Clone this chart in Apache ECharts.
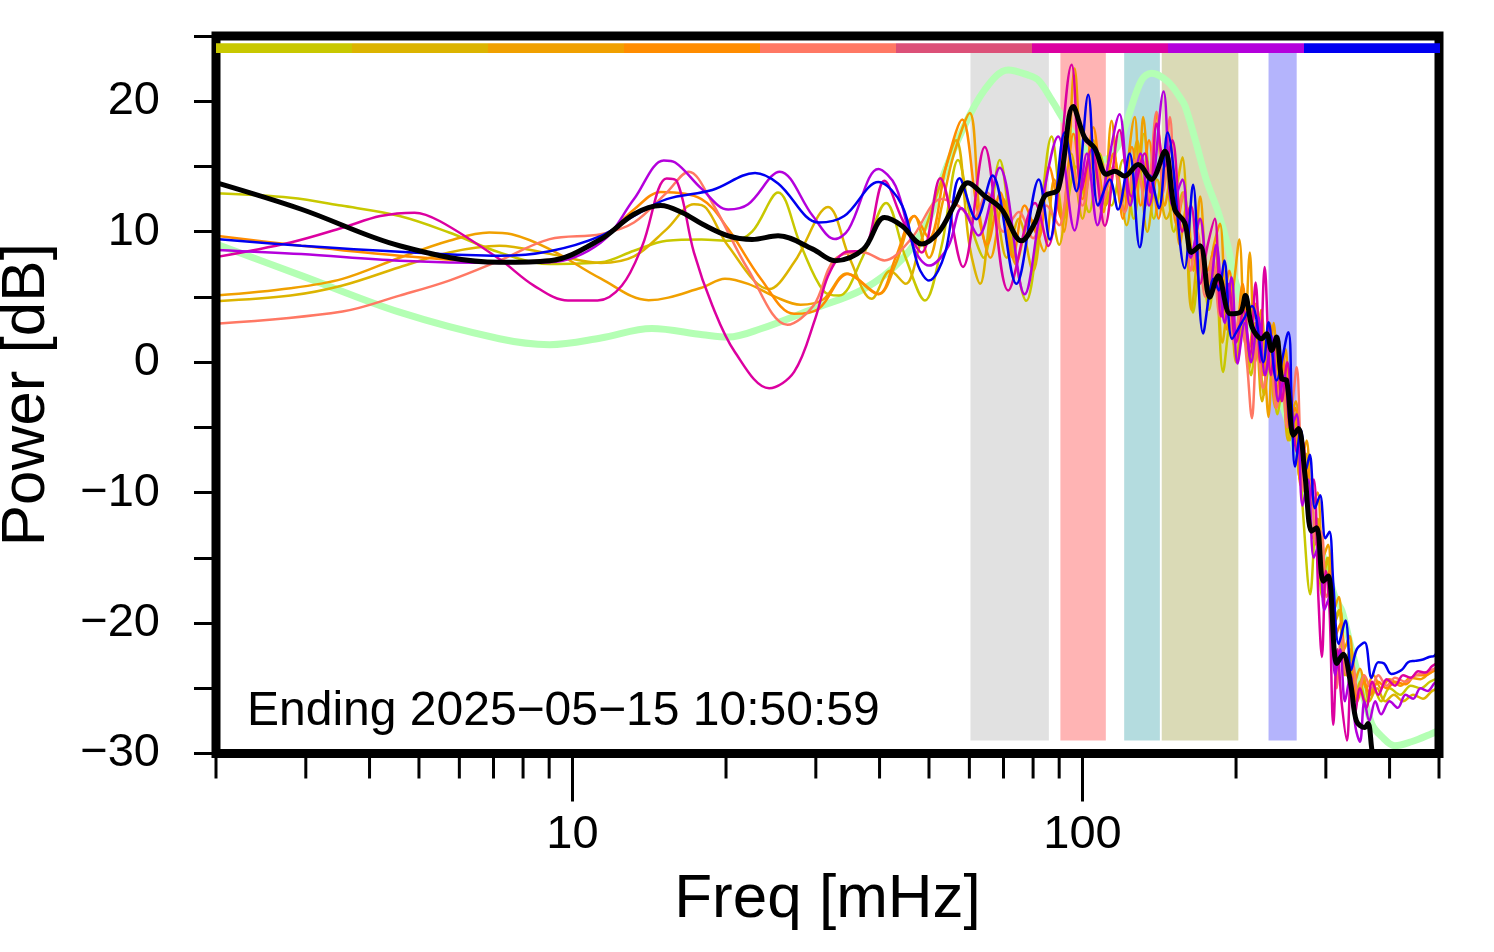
<!DOCTYPE html>
<html><head><meta charset="utf-8">
<script src="https://cdn.jsdelivr.net/npm/echarts@6/dist/echarts.min.js"></script>
<style>html,body{margin:0;padding:0;background:#fff;}#c{width:1494px;height:952px;}</style>
</head><body><div id="c"></div>
<script>
// ---------- data ----------
const xMinorTicks = [2,3,4,5,6,7,8,9,20,30,40,50,60,70,80,90,200,300,400,500];
const xMajorTicks = [10,100];
const bandLo = [60.3, 90.5, 120.7, 143, 231.6];
const bandHi = [85.9, 111.1, 141.8, 202.1, 263];
const bandTop = 23.7, bandBottom = -29;
const timeSegments = [0,1,2,3,4,5,6,7,8];
const stampText = 'Ending 2025\u221205\u221215 10:50:59';

const refCurve = [[2,9.05],[2.94,6.63],[4.58,3.83],[7.19,1.79],[9.02,1.34],[11.37,1.85],[14.3,2.58],[18,2.1],[20.2,1.92],[23.4,2.56],[29.6,4.08],[37.2,5.6],[44.3,7.9],[50,10.95],[53,14.0],[57.8,17.57],[64.3,20.88],[71.5,22.4],[78.3,22.0],[82,21.6],[87,20.1],[92.3,18.46],[100,16.5],[110,15.5],[117,16.5],[123,18.84],[130.5,21.6],[136.5,22.15],[147,21.5],[156.5,20.1],[159,19.6],[166.3,17.06],[174.8,14.0],[184.6,11.47],[192.7,8.92],[198.8,6.37],[210,3.5],[230,0],[250,-4],[270,-9],[290,-13.5],[312.8,-18.05],[322.6,-19.07],[336.3,-21.9],[368.7,-27.7],[386,-28.7],[409.6,-29.4],[441.5,-29.1],[476,-28.6],[500,-28.2]];

const specY = [[2,12.94],[2.8,12.6],[3.52,12.0],[4.58,11.2],[5.73,9.94],[7.19,8.41],[9.02,7.52],[11.37,7.65],[13.2,8.54],[15.3,9.3],[17.9,9.4],[20.5,9.3],[22.5,10.0],[25.3,13.0],[28,9.0],[31,5.5],[33.3,5.1],[37,8],[41.2,12.2],[45,8],[49.1,4.72],[53,9],[57,15.5],[61,10],[64,8],[68.8,15.5],[73,9],[77.6,4.7],[82,10],[87,17.3],[92,11],[97,15],[103,11.5],[108,16],[114,12],[120,15.5],[126,11],[132,17.5],[138,11],[145,15],[151,10],[157,13],[164.7,3.8],[171,8],[177,4],[182,7],[188.6,-0.75],[195,3],[201,0],[207,3.5],[214,-1],[220,2.5],[227,-2.5],[234,1],[241,-4],[248,-1],[255,-6],[262,-4],[270,-11],[279.6,-17.8],[287,-12],[295,-18],[302,-15],[310,-20],[318,-19],[326,-24],[334,-22],[342,-26],[350,-24.5],[360,-26],[372,-25],[385,-26],[400,-25],[420,-25.5],[440,-24.8],[460,-25],[480,-24.5],[500,-24.2]];

const specG = [[2,4.67],[2.8,5.1],[3.54,5.87],[4.58,7.27],[5.73,8.41],[7.19,8.92],[9.02,8.3],[11.37,7.6],[13.2,8.1],[15.3,10.2],[17.3,12.1],[18.3,11.8],[20.2,8.9],[24.3,5.6],[27.2,7.65],[31.7,11.9],[35,7.9],[38.6,4.85],[42,7],[45,6],[48,9],[53,14],[56.5,17],[60,9],[63,6],[67,12.5],[71,8],[75,11],[80,7],[85,13],[90,9],[95,16],[100,11],[105,17],[111,12],[116,15],[122,10.5],[128,17],[134,10],[140,14],[146,11],[152,13],[157,15.7],[163.5,4.0],[170,9],[176,5],[182,8.5],[188,1.5],[194,5],[200,0],[206,4],[212,-0.5],[218,3],[225,-3],[232,0.5],[239,-3.5],[246,-1],[253,-6],[260,-4],[267,-9],[274,-7],[282,-13],[289,-12],[296,-16],[304,-15],[312,-20],[320,-19],[328,-23],[336,-22],[345,-25.5],[355,-24],[365,-26],[378,-25],[392,-26],[408,-25.5],[425,-26],[445,-25.5],[465,-25.8],[485,-25.2],[500,-25.0]];

const specO = [[2,5.1],[2.8,5.66],[3.54,6.38],[4.58,8.0],[5.73,9.3],[6.87,9.94],[7.6,9.8],[9.02,8.66],[11.37,6.4],[14.1,4.75],[17.9,5.7],[19.9,6.4],[22.1,6.0],[25,5.0],[28,4.4],[31,4.8],[34.5,6.8],[39.8,5.2],[43,7.5],[46.8,11.2],[50,8],[53,12],[56,16],[60.1,19.1],[63,11],[66,8],[70,12.5],[74,7.5],[79,11],[84,8.5],[88,14],[92,10],[96.5,22.5],[101,13],[106,16],[110,11.5],[114,18.5],[119,12],[126.6,18.8],[129,14],[131.5,18.8],[136,12],[139.7,19.1],[145,12],[150,15],[155,9],[160,12],[165,7],[170.1,12.7],[176,6],[181,9],[186,10.6],[192,2.5],[198,6],[203,9.4],[208,1.5],[212.8,8.4],[218,0],[224,4],[231.6,-4.2],[237,3],[244,-2],[250,1],[256,-4],[262,-3],[268,-8],[275,-6],[282,-11],[289,-10],[296,-15],[303,-14],[311,-19],[318,-18],[326,-22],[334,-21],[342,-24.5],[350,-23.5],[360,-25],[372,-24],[385,-25],[400,-24.3],[420,-24.8],[440,-24.2],[460,-24.3],[480,-23.8],[500,-23.5]];

const specD = [[2,9.68],[2.94,8.92],[4.58,8.16],[7.19,7.7],[9.02,7.85],[11.37,9.43],[13.2,11.7],[14.9,13.04],[17.9,12.5],[20.2,10.2],[23.4,6.4],[27.2,3.7],[30.4,4.1],[34.7,6.76],[39.8,5.23],[43,8],[46.8,11.2],[50,9.5],[54,15],[58.1,18.6],[62,12],[65,9],[69,13],[73,8],[77,12],[82,9.5],[86,15],[91,11],[96,17.5],[100,12.5],[105,18],[110,13],[115,16],[120,11],[125,16.5],[130,12],[135,17],[141,11],[147,16],[153,10.5],[158,13],[164,8],[170,11],[176,7],[182,9],[188,4],[194,7],[200,2],[206,6],[212,1],[219,4.5],[226,-1],[233,3],[240,-2.5],[247,0.5],[254,-5],[261,-3.5],[268,-9.5],[275,-8],[283,-13.5],[290,-12.5],[297,-17],[305,-16],[313,-21],[321,-20],[329,-24],[337,-23],[346,-26],[356,-24.5],[367,-25.5],[380,-24.5],[395,-25],[410,-24.5],[430,-24.7],[450,-24],[470,-24],[490,-23.6],[500,-23.3]];

const specS = [[2,2.94],[3.54,3.88],[4.58,5.1],[5.73,6.25],[7.19,7.78],[9.02,9.43],[11.37,9.81],[13.2,10.7],[15.3,13.0],[16.9,14.6],[18.8,12.2],[22.1,7.1],[26.4,2.86],[29.7,4.34],[32.7,7.9],[37.2,8.4],[40.9,7.8],[46.1,9.43],[52.9,12.5],[57,12],[61,11],[65,13],[70,10],[75,11.5],[80,9.5],[85,12],[90,10.5],[95,15],[100,12],[105,16],[110,12.5],[115,15],[121,11.5],[127,15.5],[133,12],[139.7,19.2],[144,13],[148.4,18.8],[153,11],[158,13],[163,7],[168,10],[174,5],[180,8],[186,3.5],[192,6],[198,1.5],[204,4],[210,0],[214.9,-4.3],[220,1.5],[226,-2],[233,0.5],[240,-3.5],[246,-1],[252,-5],[258,-3],[263,-0.4],[268,-7],[273,-10],[280,-9],[287,-14],[294,-13],[301,-18],[308,-17],[315,-25],[322,-21],[330,-24],[338,-23],[347,-25.5],[357,-24],[368,-25],[380,-24],[395,-24.8],[410,-24.2],[430,-24.5],[450,-24],[470,-23.8],[490,-23.5],[500,-23.3]];

const specM = [[2,8.05],[2.8,9.17],[3.54,10.3],[4.2,11.2],[4.9,11.46],[5.5,10.8],[7.19,7.9],[8.4,5.87],[9.8,4.72],[11.2,4.72],[12.5,5.87],[13.7,8.9],[15.3,14.08],[16.0,13.9],[17.3,8.41],[18.8,4.34],[20.8,0.8],[24.3,-2.0],[27.2,-0.75],[29.9,3.3],[31.7,6.6],[34.1,8.4],[37.2,8.6],[40.9,13.9],[44.3,10.96],[48.4,8.4],[52.6,14.1],[58.3,7.3],[64.3,16.5],[71.5,5.5],[80.7,12.2],[85.6,8.9],[95.2,22.8],[99.5,13.2],[104.1,16.3],[110.6,10.45],[118.2,17.8],[124.7,12.7],[132.4,16.0],[136,13],[139.7,18.3],[145,15],[150,17],[157,10],[163,12],[170,6],[176,9],[181.7,11.0],[187,3.5],[193,6],[200,1.5],[207,4],[213,0.5],[218.5,6.1],[223,0],[227.6,7.3],[234,-1],[240,2],[246,-3],[252,0],[258,-4],[264,-7],[270,-6],[277,-11],[284,-9],[290,-18],[294.7,-22.6],[300,-16],[305,-19],[310.3,-27.8],[316,-22],[322,-26],[330,-29],[336,-24],[342,-27],[350,-25],[360,-26.5],[370,-24.5],[380,-25.5],[395,-24.3],[410,-24.8],[425,-24],[440,-24.2],[455,-23.7],[470,-23.8],[485,-23.3],[500,-23.0]];

const specP = [[2,8.6],[2.94,8.28],[4.58,7.77],[7.19,7.6],[9.02,7.65],[11.37,9.17],[13.2,12.5],[15.1,15.46],[15.9,15.3],[17.9,13.3],[20.2,11.7],[22.1,12.1],[25.5,14.6],[29.6,11.2],[32.7,9.43],[34.8,10.2],[39.8,14.8],[43,13.5],[46.8,8.66],[50,7.4],[54.6,8.9],[57.9,11.8],[62.5,9.7],[68.8,14.9],[77,5.2],[83,12],[89.6,17.3],[96.5,10.1],[102,16],[107,10.5],[112,15],[118.2,19.0],[124,12],[130,16],[135,12],[144.2,20.75],[150,12],[157,14],[163,8],[170,11],[177,5],[183,9],[190,3],[196,6.5],[201.3,-0.1],[208,3],[214,0],[221,3.5],[228,-1],[235,2],[242,-3],[249,-1],[256,-5],[263,-4],[270,-11],[277,-9],[284,-15],[291,-14],[298,-19],[305,-18],[313,-24],[320,-22],[327,-26],[335,-24],[343,-28],[350,-29.1],[357,-26],[365,-27.5],[375,-26],[385,-27],[400,-26],[415,-26.5],[430,-25.5],[445,-25.8],[460,-25],[475,-25.2],[490,-24.6],[500,-24.4]];

const specB = [[2,9.43],[2.94,8.92],[4.58,8.46],[7.19,8.15],[9.02,8.5],[11.37,9.68],[13.2,11.2],[15.3,12.5],[18.8,13.2],[22.8,14.5],[25.3,13.7],[30.4,10.7],[34.1,11.2],[39.8,13.8],[44.3,12.0],[47.6,7.4],[50,6.25],[53.8,8.4],[57.4,14.1],[61.9,10.95],[66.6,14.3],[74.2,6.0],[82.1,14.0],[86.3,9.4],[92.3,17.6],[97.3,13.1],[102.6,20.5],[107.3,12.0],[113.1,14.0],[117.4,11.7],[123.7,16.0],[129.5,8.8],[135.7,14.3],[141.2,11.8],[146.8,17.6],[158.6,7.2],[164.7,13.6],[172.4,2.2],[180.8,6.4],[185,5.5],[189.7,7.8],[196.4,1.8],[205,3.0],[214.9,4.3],[226.3,0.0],[231.6,3.06],[240.2,-1.4],[253.2,2.3],[257,-3],[261,-8],[268,-5.2],[274,-8.3],[279,-7.1],[285.6,-11.2],[292.3,-10.2],[299.3,-13.5],[305,-13],[310.3,-17.0],[317.9,-21.6],[327.8,-19.8],[336.3,-23.6],[345,-22],[357.5,-21.5],[368.7,-24.2],[380,-23],[390.3,-23.1],[403.2,-23.9],[422.3,-23.6],[435,-23],[449,-22.9],[465,-22.8],[478,-22.6],[490,-22.5],[500,-22.0]];

const specMean = [[2,13.76],[2.94,11.72],[4.58,8.92],[7.19,7.65],[9.02,7.77],[11.37,9.43],[13.2,11.34],[14.9,12.0],[16.4,11.47],[18,10.57],[20.2,9.68],[22.5,9.4],[25.3,9.68],[29.6,8.66],[32.7,7.77],[37.2,8.66],[40.9,11.08],[44.3,10.44],[48.4,9.05],[52.2,9.94],[56,12],[59.6,13.76],[64.3,12.73],[69.4,11.72],[75.9,9.3],[80.7,10.7],[84.3,12.73],[89.6,13.24],[95.9,19.6],[101,17.2],[105.7,16.4],[111.4,14.4],[115.7,14.64],[120.9,14.26],[128.6,15.15],[136.5,14.0],[145,16.17],[151.6,11.72],[158.6,10.7],[163.6,8.41],[170,8.92],[177.6,4.98],[184.6,6.63],[194.9,3.7],[204,3.83],[208.6,5.1],[215,2.69],[224.6,1.79],[229.6,2.18],[234.9,0.9],[240.2,1.92],[245.7,-1.26],[251.3,-1.39],[259.2,-5.6],[265.2,-5.08],[273,-8.64],[281.3,-12.96],[287.9,-12.7],[296.5,-16.8],[303.3,-16.4],[315.2,-23.1],[324.3,-22.4],[336.3,-24.9],[344.4,-27.5],[357.5,-28.0],[363,-27.7],[368.7,-29.5],[375,-32]];

// ---------- styles ----------
const FONT = '"Liberation Sans", Arial, Helvetica, sans-serif';
const segColors = ['#c8c800','#dcb400','#f0a000','#ff8c00','#ff7864','#dc5078','#dc00a0','#b400dc','#0000f0'];
const bandColors = ['#e1e1e1','#ffb4b4','#b4dcdf','#dadab6','#b4b4fc'];

const chart = echarts.init(document.getElementById('c'));

function spec(name, data, color, width, z) {
  return { name, type: 'line', data, smooth: 0.35, symbol: 'none', clip: true,
           lineStyle: { color, width }, z, silent: true, animation: false };
}
function tickSeries(values, len) {
  return {
    type: 'custom', data: values.map(v => [v]), encode: { x: 0 }, clip: false, z: 20, silent: true,
    renderItem: (params, api) => {
      const p = api.coord([api.value(0), -30]);
      return { type: 'line', shape: { x1: p[0], y1: p[1] + 3, x2: p[0], y2: p[1] + len },
               style: { stroke: '#000', lineWidth: 3 } };
    }
  };
}

const option = {
  animation: false,
  backgroundColor: '#fff',
  grid: { left: 216, right: 55, top: 36, bottom: 198.5, show: true, z: 15,
          containLabel: false, outerBoundsMode: 'none',
          borderColor: '#000', borderWidth: 9, backgroundColor: 'transparent' },
  xAxis: {
    type: 'log', logBase: 10, min: 2, max: 500,
    name: 'Freq [mHz]', nameLocation: 'middle', nameGap: 115,
    nameTextStyle: { fontFamily: FONT, fontSize: 62, color: '#000' },
    axisLine: { show: false }, axisTick: { show: false }, splitLine: { show: false },
    axisLabel: { margin: 58, fontFamily: FONT, fontSize: 47, color: '#000',
      formatter: v => { const r = Math.round(v); return (r === 10 || r === 100) ? String(r) : ''; } }
  },
  yAxis: {
    type: 'value', min: -30, max: 25, interval: 5,
    name: 'Power [dB]', nameLocation: 'middle', nameGap: 158,
    nameTextStyle: { fontFamily: FONT, fontSize: 62, color: '#000' },
    axisLine: { show: false }, splitLine: { show: false },
    axisTick: { show: true, length: 22, lineStyle: { color: '#000', width: 3 } },
    axisLabel: { margin: 56, fontFamily: FONT, fontSize: 47, color: '#000',
      formatter: v => (v % 10 === 0) ? String(v).replace('-', '\u2212') : '' }
  },
  graphic: [{ type: 'text', left: 247, top: 688, z: 30,
    style: { text: stampText, font: '48px ' + FONT, fill: '#000' } }],
  series: [
    { type: 'line', data: [], z: 1, silent: true,
      markArea: { silent: true,
        data: bandLo.map((lo, i) => [
          { xAxis: lo, yAxis: bandBottom, itemStyle: { color: bandColors[i], opacity: 1 } },
          { xAxis: bandHi[i], yAxis: bandTop }]) } },
    spec('reference', refCurve, '#b4ffb4', 7, 2),
    spec('1', specY, segColors[0], 2.5, 3),
    spec('2', specG, segColors[1], 2.5, 3),
    spec('3', specO, segColors[2], 2.5, 3),
    spec('4', specD, segColors[3], 2.5, 3),
    spec('5', specS, segColors[4], 2.5, 3),
    spec('7', specM, segColors[6], 2.5, 3),
    spec('8', specP, segColors[7], 2.5, 3),
    spec('9', specB, segColors[8], 2.5, 4),
    spec('mean', specMean, '#000', 5, 5),
    { type: 'custom', data: timeSegments.map(i => [i]), encode: { x: -1, y: -1 }, clip: false, z: 16, silent: true,
      renderItem: (params, api) => {
        const cs = params.coordSys;
        const i = api.value(0);
        const w = (cs.width + 1) / timeSegments.length;
        const y0 = api.coord([2, 24.45])[1], y1 = api.coord([2, 23.7])[1];
        return { type: 'rect', shape: { x: cs.x + i * w, y: y0, width: w, height: y1 - y0 },
                 style: { fill: segColors[i] } };
      } },
    tickSeries(xMinorTicks, 25),
    tickSeries(xMajorTicks, 48)
  ]
};
chart.setOption(option);
</script></body></html>
